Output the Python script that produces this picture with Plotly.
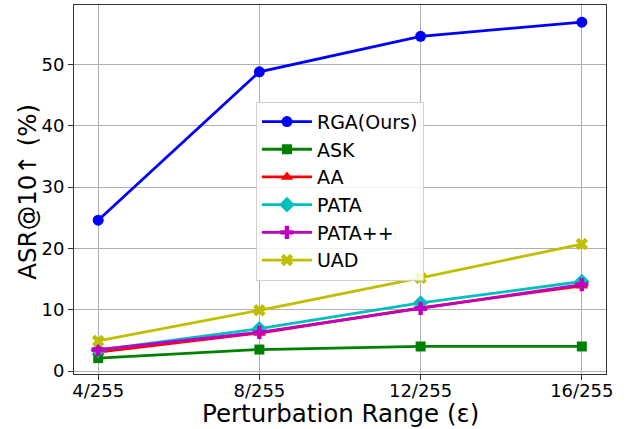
import plotly.graph_objects as go

categories = ["4/255", "8/255", "12/255", "16/255"]
x_pos = [1, 2, 3, 4]
series_names = ["RGA(Ours)", "ASK", "AA", "PATA", "PATA++", "UAD"]
rga = [24.6, 48.8, 54.6, 56.9]
ask = [2.1, 3.5, 4.0, 4.0]
aa = [3.1, 6.2, 10.3, 13.9]
pata = [3.4, 6.9, 11.1, 14.6]
pata_pp = [3.5, 6.3, 10.2, 14.1]
uad = [4.9, 9.9, 15.2, 20.7]
y_ticks = [0, 10, 20, 30, 40, 50]
x_title = "Perturbation Range (ε)"
y_title = "ASR@10↑ (%)"

values = [rga, ask, aa, pata, pata_pp, uad]
colors = ["#0000ff", "#008000", "#ff0000", "#00bfbf", "#bf00bf", "#bfbf00"]
symbols = ["circle", "square", "triangle-up", "diamond", "cross", "x"]
sizes = [11, 10, 11, 12, 11, 11]

fig = go.Figure()
for name, vals, c, s, sz in zip(series_names, values, colors, symbols, sizes):
    fig.add_trace(go.Scatter(
        x=x_pos, y=vals, name=name, mode="lines+markers",
        line=dict(color=c, width=2.8),
        marker=dict(color=c, symbol=s, size=sz, line=dict(width=0)),
    ))

axis_common = dict(
    showgrid=True, gridcolor="#b0b0b0", gridwidth=1,
    showline=True, linecolor="#333333", linewidth=1, mirror=True,
    ticks="outside", ticklen=5, tickcolor="#333333",
    tickfont=dict(family="DejaVu Sans", size=18, color="black"),
    zeroline=False, automargin=False,
)

fig.update_layout(
    width=633, height=429,
    margin=dict(l=74, r=27, t=5, b=55),
    paper_bgcolor="white", plot_bgcolor="white",
    font=dict(family="DejaVu Sans", color="black"),
    xaxis=dict(
        **axis_common,
        tickmode="array", tickvals=x_pos, ticktext=categories,
        range=[0.85, 4.15], ticklabelstandoff=-5,
    ),
    yaxis=dict(
        **axis_common,
        tickmode="array", tickvals=y_ticks,
        range=[-0.49, 59.7],
    ),
    legend=dict(
        x=0.342, y=0.738, xanchor="left", yanchor="top",
        bgcolor="rgba(255,255,255,0.85)", bordercolor="#d0d0d0", borderwidth=1,
        font=dict(family="DejaVu Sans", size=19, color="black"),
        itemwidth=50,
    ),
    showlegend=True,
    annotations=[
        dict(text=x_title, xref="paper", yref="paper", x=0.5, y=-0.106,
             xanchor="center", yanchor="middle", showarrow=False,
             font=dict(family="DejaVu Sans", size=24.5, color="black")),
        dict(text=y_title, xref="paper", yref="paper", x=-0.0865, y=0.494,
             xanchor="center", yanchor="middle", showarrow=False, textangle=-90,
             font=dict(family="DejaVu Sans", size=24.5, color="black")),
    ],
)

fig.write_html("out.html")
